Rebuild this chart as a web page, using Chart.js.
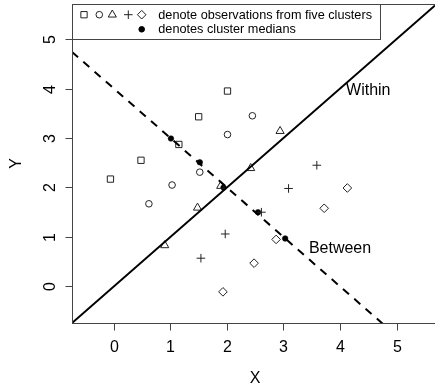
<!DOCTYPE html>
<html>
<head>
<meta charset="utf-8">
<script src="https://cdn.jsdelivr.net/npm/chart.js@4/dist/chart.umd.min.js"></script>
<style>
  html, body { margin: 0; padding: 0; background: #fff; overflow: hidden; width: 435px; height: 389px; }
  canvas { display: block; }
</style>
</head>
<body>
<canvas id="chart" width="435" height="389"></canvas>
<script>
// Observations of the five clusters
const squareX   = [-0.06, 0.48, 1.15, 1.50, 2.01];
const squareY   = [ 2.17, 2.55, 2.87, 3.43, 3.95];
const circleX   = [ 0.62, 1.03, 1.52, 2.01, 2.45];
const circleY   = [ 1.67, 2.05, 2.31, 3.07, 3.45];
const triangleX = [ 0.90, 1.48, 1.89, 2.42, 2.94];
const triangleY = [ 0.83, 1.59, 2.03, 2.39, 3.14];
const plusX     = [ 1.54, 1.97, 2.61, 3.09, 3.59];
const plusY     = [ 0.57, 1.06, 1.50, 1.98, 2.45];
const diamondX  = [ 1.93, 2.48, 2.87, 3.72, 4.13];
const diamondY  = [-0.11, 0.47, 0.95, 1.58, 1.99];

// Cluster medians
const medianX = [1.01, 1.52, 1.94, 2.55, 3.03];
const medianY = [2.99, 2.51, 2.00, 1.50, 0.97];

// Reference lines (intercept, slope)
const withinLine  = [0, 1];
const betweenLine = [4, -1];

// Axis limits and ticks
const xLimits = [-0.74, 5.68];
const yLimits = [-0.74, 5.71];
const xTicks = [0, 1, 2, 3, 4, 5];
const yTicks = [0, 1, 2, 3, 4, 5];

// Text
const xTitle = 'X';
const yTitle = 'Y';
const lineLabels = [
  { text: 'Within',  x: 4.5, y: 4.0 },
  { text: 'Between', x: 4.0, y: 0.8 }
];
const legendLines = ['denote observations from five clusters', 'denotes cluster medians'];

const FONT = '"Liberation Sans", Arial, Helvetica, sans-serif';
const INK = '#222';

const toPoints = (xs, ys) => xs.map((x, i) => ({ x, y: ys[i] }));
const ablinePoints = ([a, b]) => xLimits.map(x => ({ x, y: a + b * x }));

const markerStyles = [
  { style: 'rect',     radius: 4.45 },
  { style: 'circle',   radius: 3.3 },
  { style: 'triangle', radius: 4.7 },
  { style: 'cross',    radius: 4.3 },
  { style: 'rectRot',  radius: 4.3 }
];
const clusters = [
  toPoints(squareX, squareY),
  toPoints(circleX, circleY),
  toPoints(triangleX, triangleY),
  toPoints(plusX, plusY),
  toPoints(diamondX, diamondY)
];

const datasets = [
  {
    type: 'line', data: ablinePoints(withinLine), borderColor: '#000', borderWidth: 2,
    pointRadius: 0, fill: false, clip: 0
  },
  {
    type: 'line', data: ablinePoints(betweenLine), borderColor: '#000', borderWidth: 2,
    borderDash: [8, 7], pointRadius: 0, fill: false, clip: 0
  },
  ...clusters.map((pts, i) => ({
    type: 'scatter', data: pts, pointStyle: markerStyles[i].style,
    pointRadius: markerStyles[i].radius, pointBorderColor: INK, pointBorderWidth: 1,
    pointBackgroundColor: 'rgba(0,0,0,0)', clip: false
  })),
  {
    type: 'scatter', data: toPoints(medianX, medianY), pointStyle: 'circle',
    pointRadius: 2.8, pointBorderColor: '#000', pointBorderWidth: 0.5,
    pointBackgroundColor: '#000', clip: false
  }
];

// Frame, axes, titles, line labels and legend
const decorations = {
  id: 'decorations',
  afterDraw(chart) {
    const { ctx, chartArea: a, scales: { x, y } } = chart;
    ctx.save();
    ctx.strokeStyle = '#444';
    ctx.lineWidth = 1;
    ctx.setLineDash([]);

    // plot frame (the right side falls at the canvas edge)
    const L = Math.round(a.left) + 0.5, R = Math.round(a.right) + 0.5;
    const T = Math.round(a.top) + 0.5, B = Math.round(a.bottom) + 0.5;
    ctx.strokeRect(L, T, R - L, B - T);

    ctx.fillStyle = '#000';
    ctx.font = '16px ' + FONT;

    // x axis ticks
    ctx.textAlign = 'center';
    ctx.textBaseline = 'alphabetic';
    xTicks.forEach(v => {
      const px = Math.round(x.getPixelForValue(v)) + 0.5;
      ctx.beginPath(); ctx.moveTo(px, B); ctx.lineTo(px, B + 7); ctx.stroke();
      ctx.fillText(String(v), px, 352);
    });

    // y axis ticks (labels parallel to the axis)
    yTicks.forEach(v => {
      const py = Math.round(y.getPixelForValue(v)) + 0.5;
      ctx.beginPath(); ctx.moveTo(L - 7, py); ctx.lineTo(L, py); ctx.stroke();
      ctx.save();
      ctx.translate(54.5, py);
      ctx.rotate(-Math.PI / 2);
      ctx.fillText(String(v), 0, 0);
      ctx.restore();
    });

    // axis titles
    ctx.fillText(xTitle, 255, 383);
    ctx.save();
    ctx.translate(20.5, (a.top + a.bottom) / 2);
    ctx.rotate(-Math.PI / 2);
    ctx.fillText(yTitle, 0, 0);
    ctx.restore();

    // line labels
    lineLabels.forEach(l => {
      ctx.fillText(l.text, x.getPixelForValue(l.x), y.getPixelForValue(l.y) + 6);
    });

    // legend
    const boxR = 380.5, boxB = 39.5;
    ctx.fillStyle = '#fff';
    ctx.fillRect(L + 0.5, T + 0.5, boxR - L - 1, boxB - T - 1);
    ctx.strokeRect(L, T, boxR - L, boxB - T);

    const markerXs = [84, 99.3, 112.3, 128.3, 141.7];
    const drawPoint = Chart.helpers && Chart.helpers.drawPoint;
    ctx.strokeStyle = INK;
    ctx.lineWidth = 1;
    markerStyles.forEach((m, i) => {
      ctx.fillStyle = 'rgba(0,0,0,0)';
      drawPoint(ctx, { pointStyle: m.style, radius: m.radius, borderWidth: 1, rotation: 0 }, markerXs[i], 14.7);
    });
    ctx.fillStyle = '#000';
    ctx.strokeStyle = '#000';
    drawPoint(ctx, { pointStyle: 'circle', radius: 2.8, borderWidth: 0.5, rotation: 0 }, 141.7, 29.3);

    ctx.fillStyle = '#000';
    ctx.font = '12.7px ' + FONT;
    ctx.textAlign = 'left';
    ctx.fillText(legendLines[0], 158.3, 18.7);
    ctx.fillText(legendLines[1], 158.3, 33.3);
    ctx.restore();
  }
};

new Chart(document.getElementById('chart'), {
  data: { datasets },
  options: {
    responsive: false,
    animation: false,
    devicePixelRatio: 1,
    layout: { autoPadding: false, padding: { left: 72, top: 4, right: 0, bottom: 66 } },
    scales: {
      x: { type: 'linear', min: xLimits[0], max: xLimits[1], display: false },
      y: { type: 'linear', min: yLimits[0], max: yLimits[1], display: false }
    },
    plugins: { legend: { display: false }, tooltip: { enabled: false } },
    events: []
  },
  plugins: [decorations]
});
</script>
</body>
</html>
